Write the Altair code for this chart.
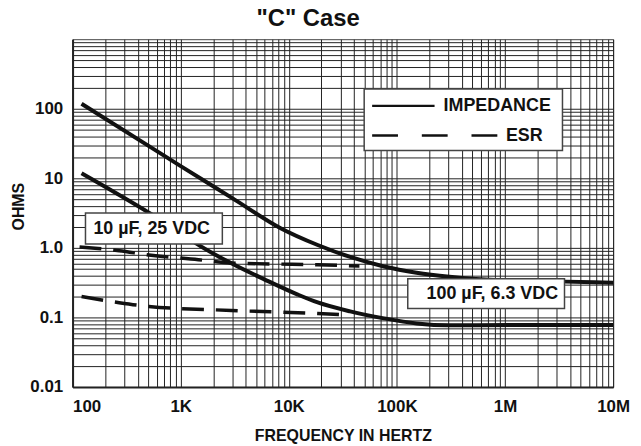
import altair as alt
import pandas as pd

# ---- data ----
freq_imp_10 = [121, 500, 1000, 3000, 8400, 18500, 37000, 76000, 152000, 306000, 1000000, 3600000, 10000000]
ohm_imp_10 = [118, 29.5, 15.0, 5.2, 1.92, 1.10, 0.74, 0.54, 0.44, 0.385, 0.34, 0.327, 0.316]

freq_imp_100 = [121, 508, 1000, 1400, 2940, 6000, 12100, 18500, 37000, 76000, 152000, 306000, 1260000, 10000000]
ohm_imp_100 = [11.8, 3.2, 1.65, 1.15, 0.6, 0.35, 0.213, 0.164, 0.122, 0.097, 0.082, 0.077, 0.078, 0.078]

freq_esr_10 = [116, 270, 508, 1460, 2700, 10700, 18500, 45000]
ohm_esr_10 = [1.03, 0.91, 0.79, 0.675, 0.61, 0.58, 0.57, 0.55]

freq_esr_100 = [121, 270, 508, 2940, 18500, 36000]
ohm_esr_100 = [0.2, 0.163, 0.144, 0.126, 0.114, 0.108]

x_label_values = [100, 1000, 10000, 100000, 1000000, 10000000]
x_label_text = ["100", "1K", "10K", "100K", "1M", "10M"]
y_label_values = [0.01, 0.1, 1, 10, 100]
y_label_text = ["0.01", "0.1", "1.0", "10", "100"]

x_grid = [m * 10 ** e for e in range(2, 7) for m in range(1, 10)] + [10000000]
y_grid = [round(m * 10.0 ** e, 6) for e in range(-2, 3) for m in range(1, 10)]

FONT = "Liberation Sans"
INK = "#111111"

rows = []
for name, kind, fs, vs in [
    ("10uF", "IMPEDANCE", freq_imp_10, ohm_imp_10),
    ("100uF", "IMPEDANCE", freq_imp_100, ohm_imp_100),
    ("10uF", "ESR", freq_esr_10, ohm_esr_10),
    ("100uF", "ESR", freq_esr_100, ohm_esr_100),
]:
    for f, v in zip(fs, vs):
        rows.append({"series": name, "kind": kind, "f": f, "v": v})
df = pd.DataFrame(rows)

# annotation boxes (in data units: Hz, ohms)
boxes = pd.DataFrame([
    {"f": 131.6, "f2": 2428, "v": 3.16, "v2": 1.14},
    {"f": 126000, "f2": 3550000, "v": 0.361, "v2": 0.1344},
    {"f": 49800, "f2": 3400000, "v": 193, "v2": 25.1},
])
labels = pd.DataFrame([
    {"f": 155.8, "v": 1.87, "t": "10 µF, 25 VDC"},
    {"f": 188000, "v": 0.220, "t": "100 µF, 6.3 VDC"},
    {"f": 270000, "v": 110, "t": "IMPEDANCE"},
    {"f": 1020000, "v": 41.1, "t": "ESR"},
])
leg_solid = pd.DataFrame([{"f": 59000, "f2": 223000, "v": 110}])
leg_dash = pd.DataFrame([{"f": 59000, "f2": 863000, "v": 41.1}])

x_scale = alt.Scale(type="log", domain=[100, 10000000], nice=False)
y_scale = alt.Scale(type="log", domain=[0.01, 1000], nice=False)


def expr_for(vals, texts):
    return " : ".join(f"datum.value == {v} ? '{t}'" for v, t in zip(vals, texts)) + " : ''"


x_axis = alt.Axis(
    values=x_grid,
    labelExpr=expr_for(x_label_values, x_label_text),
    labelOverlap=False,
    labelAlign={"condition": {"test": "datum.value <= 100", "value": "left"}, "value": "center"},
    labelPadding=12,
    titleY=48.5,
    titleBaseline="middle",
    titleFontSize=16,
)
y_axis = alt.Axis(
    values=y_grid,
    labelExpr=expr_for(y_label_values, y_label_text),
    labelOverlap=False,
    labelPadding=10,
    labelBaseline="middle",
    titleX=-54,
    titleY=168,
    titleAngle=270,
    titleBaseline="middle",
    titleFontSize=16,
)


def X(field="f"):
    return alt.X(f"{field}:Q", scale=x_scale, axis=x_axis, title="FREQUENCY IN HERTZ")


def Y(field="v"):
    return alt.Y(f"{field}:Q", scale=y_scale, axis=y_axis, title="OHMS")


esr = alt.Chart(df[df.kind == "ESR"]).mark_line(
    color=INK, strokeWidth=3.5, strokeDash=[22, 12], interpolate="monotone"
).encode(x=X(), y=Y(), detail="series:N")

imp = alt.Chart(df[df.kind == "IMPEDANCE"]).mark_line(
    color=INK, strokeWidth=4, interpolate="monotone"
).encode(x=X(), y=Y(), detail="series:N")

box_layer = alt.Chart(boxes).mark_rect(
    fill="white", stroke="#444444", strokeWidth=1.5
).encode(x=X(), x2="f2:Q", y=Y(), y2="v2:Q")

text_layer = alt.Chart(labels).mark_text(
    align="left", baseline="middle", font=FONT, fontWeight="bold", fontSize=18, color=INK
).encode(x=X(), y=Y(), text="t:N")

leg1 = alt.Chart(leg_solid).mark_rule(color=INK, strokeWidth=2.5).encode(
    x=X(), x2="f2:Q", y=Y()
)
leg2 = alt.Chart(leg_dash).mark_rule(color=INK, strokeWidth=2.5, strokeDash=[26, 24]).encode(
    x=X(), x2="f2:Q", y=Y()
)

chart = alt.layer(esr, imp, box_layer, leg1, leg2, text_layer).properties(
    width=544,
    height=350,
    autosize=alt.AutoSizeParams(type="none"),
    padding={"left": 65, "top": 30, "right": 20, "bottom": 58},
    title=alt.TitleParams(
        text='"C" Case', font=FONT, fontSize=24, fontWeight="bold", color=INK,
        anchor="middle", frame="group", dx=-35, dy=27, offset=10, baseline="alphabetic",
    ),
).configure_view(
    stroke="#444444", strokeWidth=1
).configure_axis(
    grid=True, gridColor="#222222", gridWidth=1, gridOpacity=1,
    domain=True, domainColor="#222222", domainWidth=2,
    ticks=False, tickSize=0,
    labelFont=FONT, labelFontSize=17, labelFontWeight="bold", labelColor=INK,
    titleFont=FONT, titleFontWeight="bold", titleColor=INK,
)

chart.save("out.html", embed_options={"renderer": "svg", "actions": False})
